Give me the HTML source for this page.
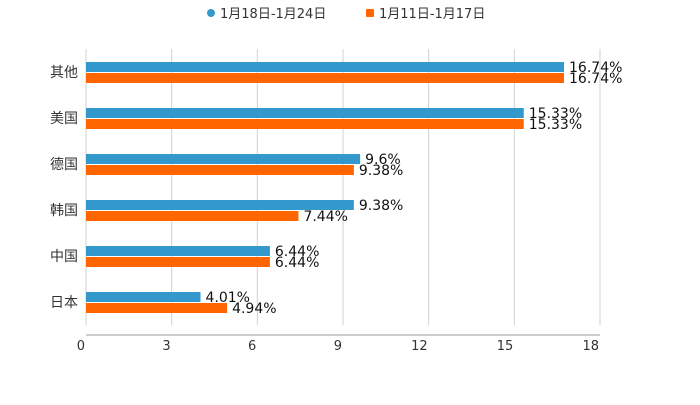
<!DOCTYPE html>
<html><head><meta charset="utf-8"><style>
body{margin:0;background:#fff;}
svg text{font-family:"DejaVu Sans","Noto Sans CJK SC",sans-serif;}
</style></head><body>
<svg id="chart" width="700" height="400" viewBox="0 0 700 400" xmlns="http://www.w3.org/2000/svg">
<g>
<g><circle cx="211" cy="13" r="4" fill="#3399cc"/><text x="220" y="18" font-size="13" fill="#333">1月18日-1月24日</text></g>
<g><rect x="366" y="9" width="8" height="8" rx="1" fill="#ff6600"/><text x="379" y="18" font-size="13" fill="#333">1月11日-1月17日</text></g>
</g>
<g id="grid"></g>
<g id="bars"></g>
<g id="axes"></g>
</svg>
<script>
const categories=["其他","美国","德国","韩国","中国","日本"];
const seriesA=[16.74,15.33,9.6,9.38,6.44,4.01];
const seriesB=[16.74,15.33,9.38,7.44,6.44,4.94];
const labelsA=["16.74%","15.33%","9.6%","9.38%","6.44%","4.01%"];
const labelsB=["16.74%","15.33%","9.38%","7.44%","6.44%","4.94%"];
const ticks=[0,3,6,9,12,15,18];
const NS="http://www.w3.org/2000/svg";
const x0=86,x1=600,yTop=49,band=46,xmax=18;
const xs=v=>x0+(v/xmax)*(x1-x0);
function mk(t,a,p){const e=document.createElementNS(NS,t);for(const k in a)e.setAttribute(k,a[k]);p.appendChild(e);return e;}
const grid=document.getElementById('grid'),bars=document.getElementById('bars'),axes=document.getElementById('axes');
ticks.forEach(t=>{
  const l=mk('line',{x1:xs(t),x2:xs(t),y1:yTop,y2:yTop+band*categories.length,stroke:'#d0d0d0','stroke-width':1},grid);
  
  
  const tx=mk('text',{x:xs(t)-1,y:350,'font-size':13,fill:'#333','text-anchor':'end'},axes);
  tx.textContent=t;
  
  
});
const ax=mk('line',{x1:x0,x2:x1,y1:335,y2:335,stroke:'#999','stroke-width':1},axes);


categories.forEach((c,i)=>{
  const cy=yTop+band*i+band/2;
  const cl=mk('text',{x:78,y:cy+5,'font-size':14,fill:'#333','text-anchor':'end'},axes);
  cl.textContent=c;
  
  
  const a=mk('rect',{x:x0,y:cy-10,width:xs(seriesA[i])-x0,height:10,fill:'#3399cc'},bars);
  
  
  const b=mk('rect',{x:x0,y:cy+1,width:xs(seriesB[i])-x0,height:10,fill:'#ff6600'},bars);
  
  
  const la=mk('text',{x:xs(seriesA[i])+5,y:cy,'font-size':14,fill:'#111'},bars);
  la.textContent=labelsA[i];
  
  
  const lb=mk('text',{x:xs(seriesB[i])+5,y:cy+11,'font-size':14,fill:'#111'},bars);
  lb.textContent=labelsB[i];
  
  
});
</script>
</body></html>
